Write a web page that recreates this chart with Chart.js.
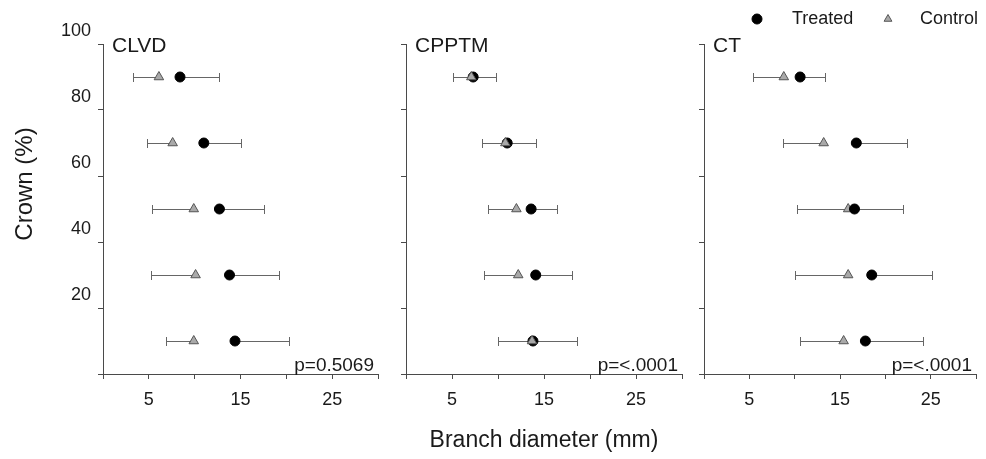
<!DOCTYPE html>
<html>
<head>
<meta charset="utf-8">
<script src="https://cdn.jsdelivr.net/npm/chart.js@4/dist/chart.umd.min.js"></script>
<style>
  html, body { margin: 0; padding: 0; background: #fff; }
  #wrap { position: relative; width: 986px; height: 459px; }
  #wrap canvas { position: absolute; left: 0; top: 0; }
</style>
</head>
<body>
<div id="wrap">
  <canvas id="p0" width="986" height="459"></canvas>
  <canvas id="p1" width="986" height="459"></canvas>
  <canvas id="p2" width="986" height="459"></canvas>
</div>
<script>
// ---- data ----
const crownLevels = [90, 70, 50, 30, 10];

const panelNames = ['CLVD', 'CPPTM', 'CT'];
const pValues = ['p=0.5069', 'p=<.0001', 'p=<.0001'];

// CLVD
const treatedCLVD = [8.4, 11.0, 12.7, 13.8, 14.4];
const treatedUpperCLVD = [12.7, 15.0, 17.6, 19.2, 20.3];
const controlCLVD = [6.1, 7.6, 9.9, 10.1, 9.9];
const controlLowerCLVD = [3.3, 4.8, 5.3, 5.2, 6.9];

// CPPTM
const treatedCPPTM = [7.3, 11.0, 13.6, 14.1, 13.8];
const treatedUpperCPPTM = [9.8, 14.1, 16.4, 18.0, 18.6];
const controlCPPTM = [7.1, 10.8, 12.0, 12.2, 13.7];
const controlLowerCPPTM = [5.1, 8.3, 8.9, 8.5, 10.0];

// CT
const treatedCT = [10.6, 16.8, 16.6, 18.5, 17.8];
const treatedUpperCT = [13.4, 22.4, 22.0, 25.1, 24.1];
const controlCT = [8.8, 13.2, 15.9, 15.9, 15.4];
const controlLowerCT = [5.4, 8.7, 10.3, 10.0, 10.6];

const xTicksShown = [5, 15, 25];

// ---- layout (pixel positions of each panel's plot area) ----
const panelLeft = [103, 406, 704];
const panelRight = [378, 682, 979];
const plotTop = 44;
const plotBottom = 374;
const W = 986, H = 459;

const axisColor = '#4a4a4a';
const textColor = '#1a1a1a';
const fontFamily = "'Liberation Sans', Arial, sans-serif";

// error bars: line from the point to dataset.errorTo with a cap at the end
const errorBarPlugin = {
  id: 'errorBars',
  beforeDatasetsDraw(chart) {
    const { ctx, scales } = chart;
    ctx.save();
    ctx.strokeStyle = '#666666';
    ctx.lineWidth = 1;
    chart.data.datasets.forEach(ds => {
      if (!ds.errorTo) return;
      ds.data.forEach((pt, i) => {
        const x0 = scales.x.getPixelForValue(pt.x);
        const x1 = scales.x.getPixelForValue(ds.errorTo[i]);
        const y = Math.round(scales.y.getPixelForValue(pt.y)) + 0.5;
        const xc = Math.round(x1) + 0.5;
        ctx.beginPath();
        ctx.moveTo(x0, y);
        ctx.lineTo(xc, y);
        ctx.moveTo(xc, y - 4.5);
        ctx.lineTo(xc, y + 4.5);
        ctx.stroke();
      });
    });
    ctx.restore();
  }
};

// panel label (top-left), p-value (bottom-right), optional y title
const panelTextPlugin = {
  id: 'panelText',
  afterDraw(chart, args, opts) {
    const { ctx, chartArea } = chart;
    ctx.save();
    ctx.fillStyle = textColor;
    ctx.font = '21px ' + fontFamily;
    ctx.textBaseline = 'middle';
    ctx.textAlign = 'left';
    ctx.fillText(opts.name, chartArea.left + 9, chartArea.top + 2);
    ctx.font = '19px ' + fontFamily;
    ctx.textAlign = 'right';
    ctx.textBaseline = 'alphabetic';
    ctx.fillText(opts.p, chartArea.right - 4, chartArea.bottom - 3);
    if (opts.yTitle) {
      ctx.font = '24px ' + fontFamily;
      ctx.textAlign = 'center';
      ctx.translate(32, 184);
      ctx.rotate(-Math.PI / 2);
      ctx.fillText(opts.yTitle, 0, 0);
    }
    ctx.restore();
  }
};

// legend drawn at the top right of the figure
const legendPlugin = {
  id: 'figLegend',
  afterDraw(chart, args, opts) {
    if (!opts.show) return;
    const ctx = chart.ctx;
    const items = chart.data.datasets.slice().sort((a, b) => a.legendIndex - b.legendIndex);
    const pos = [{ mx: 757, tx: 792 }, { mx: 888, tx: 920 }];
    ctx.save();
    ctx.font = '18px ' + fontFamily;
    ctx.textBaseline = 'middle';
    items.forEach((ds, i) => {
      ctx.fillStyle = ds.backgroundColor;
      ctx.strokeStyle = ds.borderColor;
      ctx.lineWidth = ds.borderWidth;
      Chart.helpers.drawPoint(ctx, {
        pointStyle: ds.pointStyle,
        radius: ds.pointStyle === 'triangle' ? 4.5 : 5,
        borderWidth: ds.borderWidth
      }, pos[i].mx, 19);
      ctx.fillStyle = textColor;
      ctx.fillText(ds.label, pos[i].tx, 19);
    });
    ctx.restore();
  }
};

function makePanel(idx, treated, treatedUpper, control, controlLower) {
  const treatedSet = {
    label: 'Treated',
    legendIndex: 0,
    data: crownLevels.map((y, i) => ({ x: treated[i], y })),
    errorTo: treatedUpper,
    pointStyle: 'circle',
    pointRadius: 5,
    backgroundColor: '#000000',
    borderColor: '#000000',
    borderWidth: 1
  };
  const controlSet = {
    label: 'Control',
    legendIndex: 1,
    data: crownLevels.map((y, i) => ({ x: control[i], y })),
    errorTo: controlLower,
    pointStyle: 'triangle',
    pointRadius: 5.5,
    backgroundColor: '#a9a9a9',
    borderColor: '#555555',
    borderWidth: 1
  };
  // first dataset is drawn on top: circles over triangles in CT, triangles on top elsewhere
  const datasets = idx === 2 ? [treatedSet, controlSet] : [controlSet, treatedSet];

  return new Chart(document.getElementById('p' + idx), {
    type: 'scatter',
    data: { datasets },
    options: {
      responsive: false,
      animation: false,
      layout: {
        padding: { left: 0, right: W - panelRight[idx], top: plotTop, bottom: 0 }
      },
      plugins: {
        legend: { display: false },
        tooltip: { enabled: false },
        panelText: { name: panelNames[idx], p: pValues[idx], yTitle: idx === 0 ? 'Crown (%)' : '' },
        figLegend: { show: idx === 2 }
      },
      scales: {
        x: {
          type: 'linear',
          min: 0,
          max: 30,
          afterBuildTicks: s => { s.ticks = [0, 5, 10, 15, 20, 25, 30].map(v => ({ value: v })); },
          afterFit: s => { s.height = H - plotBottom; },
          ticks: {
            autoSkip: false,
            maxRotation: 0,
            padding: 10,
            color: textColor,
            font: { family: fontFamily, size: 18 },
            callback: v => xTicksShown.includes(v) ? String(v) : ''
          },
          grid: { drawOnChartArea: false, tickLength: 5, color: axisColor },
          border: { display: true, color: axisColor },
          title: {
            display: idx === 1,
            text: 'Branch diameter (mm)',
            color: textColor,
            font: { family: fontFamily, size: 23 },
            padding: { top: 0, bottom: 5 }
          }
        },
        y: {
          type: 'linear',
          min: 0,
          max: 100,
          afterBuildTicks: s => { s.ticks = [0, 20, 40, 60, 80, 100].map(v => ({ value: v })); },
          afterFit: s => { s.width = panelLeft[idx]; },
          ticks: {
            display: idx === 0,
            padding: 7,
            color: textColor,
            font: { family: fontFamily, size: 18, lineHeight: 1.39 },
            // labels sit a little above their tick in the original; second empty line lifts them
            callback: v => v === 0 ? '' : [String(v), '']
          },
          grid: { drawOnChartArea: false, tickLength: 5, color: axisColor },
          border: { display: true, color: axisColor }
        }
      }
    },
    plugins: [errorBarPlugin, panelTextPlugin, legendPlugin]
  });
}

makePanel(0, treatedCLVD, treatedUpperCLVD, controlCLVD, controlLowerCLVD);
makePanel(1, treatedCPPTM, treatedUpperCPPTM, controlCPPTM, controlLowerCPPTM);
makePanel(2, treatedCT, treatedUpperCT, controlCT, controlLowerCT);
</script>
</body>
</html>
